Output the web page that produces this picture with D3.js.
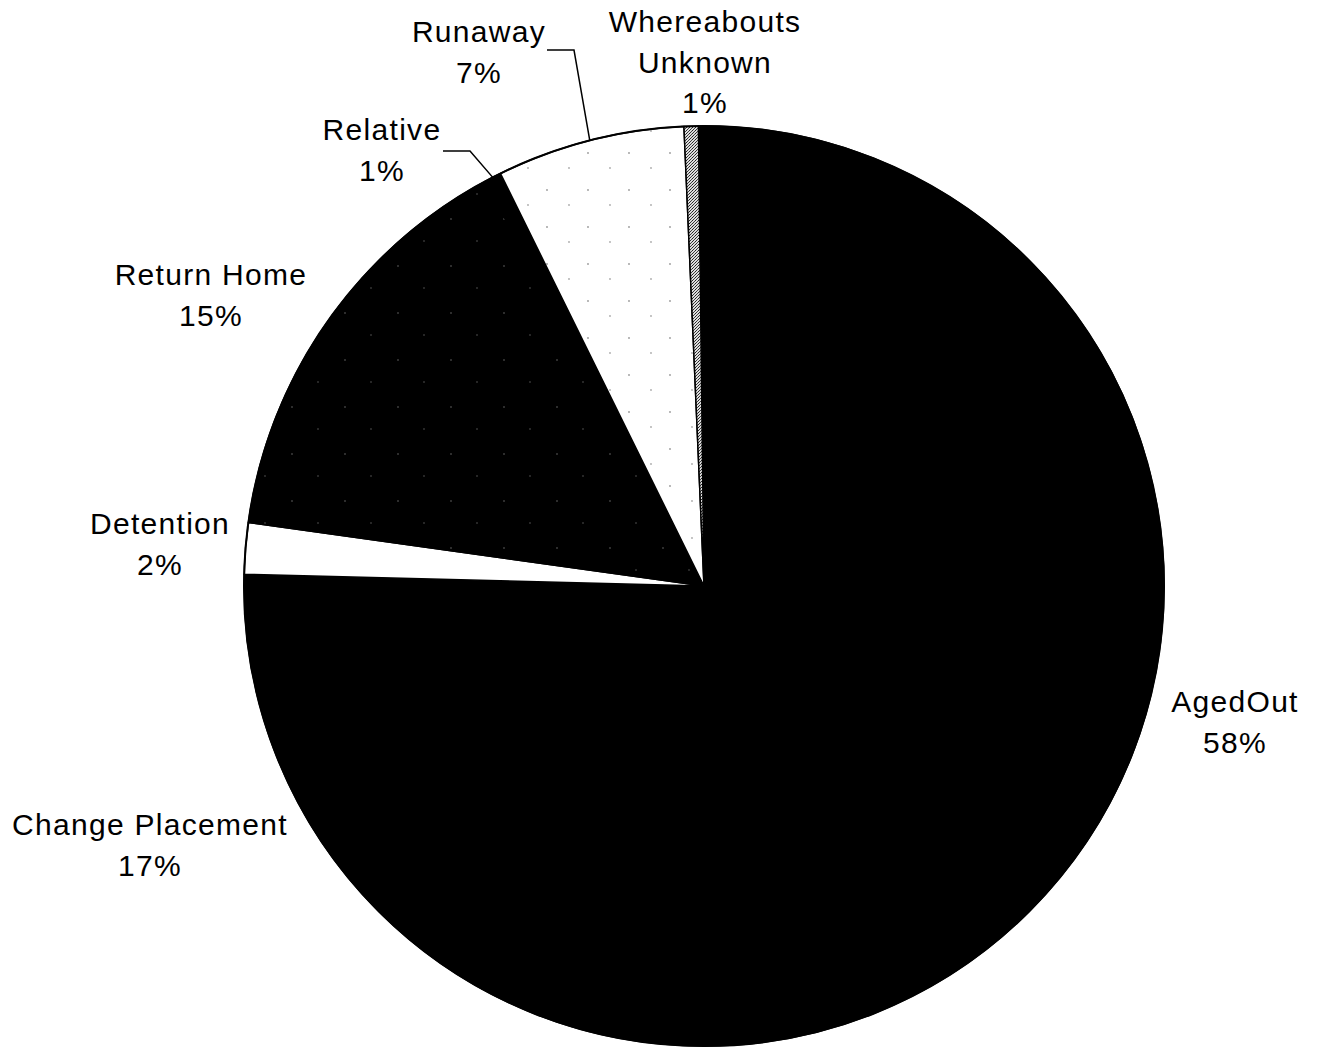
<!DOCTYPE html>
<html>
<head>
<meta charset="utf-8">
<script src="https://cdn.jsdelivr.net/npm/d3@7"></script>
<style>
  body { margin: 0; background: #fff; }
  text { font-family: "Liberation Sans", Arial, sans-serif; font-size: 30px; letter-spacing: 1.3px; fill: #000; }
</style>
</head>
<body>
<div id="pie"></div>
<script>
var width = 1322;
var height = 1049;
var cx = 704, cy = 586, radius = 460;

// slices, clockwise from 12 o'clock
var categories = ["AgedOut", "Change Placement", "Detention", "Return Home", "Relative", "Runaway", "Whereabouts Unknown"];
var labelLines = [["AgedOut"], ["Change Placement"], ["Detention"], ["Return Home"], ["Relative"], ["Runaway"], ["Whereabouts", "Unknown"]];
var values = [58.2, 17.4, 1.8, 14.9, 0.6, 6.6, 0.5];
var fills = ["#000", "#000", "#fff", "url(#darkdots)", "#000", "url(#lightdots)", "url(#stipple)"];

// where excel put the labels (center x, first baseline)
var labelAt = [[1235, 712], [150, 835], [160, 534], [211, 285], [382, 140], [479, 42], [705, 32]];
var leaders = {4: [443, 151, 470, 151], 5: [547, 50, 574, 50]};

var svg = d3.select("#pie")
  .append("svg")
  .attr("width", width)
  .attr("height", height);

var defs = svg.append("defs");

var dark = defs.append("pattern").attr("id", "darkdots")
  .attr("patternUnits", "userSpaceOnUse").attr("width", 53).attr("height", 47);
dark.append("rect").attr("width", 53).attr("height", 47).attr("fill", "#000");
dark.append("circle").attr("cx", 12).attr("cy", 9).attr("r", 0.8).attr("fill", "#666");
dark.append("circle").attr("cx", 38).attr("cy", 31).attr("r", 0.8).attr("fill", "#555");

var light = defs.append("pattern").attr("id", "lightdots")
  .attr("patternUnits", "userSpaceOnUse").attr("width", 41).attr("height", 37);
light.append("rect").attr("width", 41).attr("height", 37).attr("fill", "#fff");
light.append("circle").attr("cx", 7).attr("cy", 11).attr("r", 0.9).attr("fill", "#999");
light.append("circle").attr("cx", 29).attr("cy", 26).attr("r", 0.9).attr("fill", "#aaa");

var stip = defs.append("pattern").attr("id", "stipple")
  .attr("patternUnits", "userSpaceOnUse").attr("width", 3).attr("height", 3);
stip.append("rect").attr("width", 3).attr("height", 3).attr("fill", "#ddd");
stip.append("rect").attr("width", 1).attr("height", 1).attr("fill", "#222");
stip.append("rect").attr("x", 2).attr("y", 1).attr("width", 1).attr("height", 1).attr("fill", "#444");
stip.append("rect").attr("x", 1).attr("y", 2).attr("width", 1).attr("height", 1).attr("fill", "#333");

var data = categories.map(function(c, i) { return {name: c, value: values[i], i: i}; });
var total = d3.sum(values);

var rot = -0.7 * Math.PI / 180;
var pie = d3.pie()
  .sort(null)
  .value(function(d) { return d.value; })
  .startAngle(rot)
  .endAngle(2 * Math.PI + rot);

var arc = d3.arc().innerRadius(0).outerRadius(radius);

var g = svg.append("g").attr("transform", `translate(${cx},${cy})`);

var arcs = pie(data);

g.selectAll("path.slice")
  .data(arcs)
  .enter()
  .append("path")
    .attr("class", "slice")
    .attr("d", arc)
    .attr("fill", function(d) { return fills[d.data.i]; })
    .attr("stroke", "#000")
    .attr("stroke-width", 1.5)
    .attr("stroke-linejoin", "round");

// outline
g.append("circle").attr("r", radius).attr("fill", "none").attr("stroke", "#000").attr("stroke-width", 2);

// leader lines for the small slices
arcs.forEach(function(d) {
  var l = leaders[d.data.i];
  if (!l) return;
  var a = (d.startAngle + d.endAngle) / 2;
  var ex = cx + radius * Math.sin(a), ey = cy - radius * Math.cos(a);
  svg.append("polyline")
    .attr("points", [[l[0], l[1]], [l[2], l[3]], [ex, ey]].join(" "))
    .attr("fill", "none")
    .attr("stroke", "#000")
    .attr("stroke-width", 1.5);
});

// labels
var labels = svg.selectAll("text.lab")
  .data(arcs)
  .enter()
  .append("text")
    .attr("class", "lab")
    .attr("text-anchor", "middle")
    .attr("x", function(d) { return labelAt[d.data.i][0]; })
    .attr("y", function(d) { return labelAt[d.data.i][1]; });

labels.each(function(d) {
  var t = d3.select(this);
  var x = labelAt[d.data.i][0];
  var lines = labelLines[d.data.i].concat([Math.round(d.data.value / total * 100) + "%"]);
  lines.forEach(function(s, k) {
    t.append("tspan").attr("x", x).attr("dy", k ? 40.5 : 0).text(s);
  });
});
</script>
</body>
</html>
